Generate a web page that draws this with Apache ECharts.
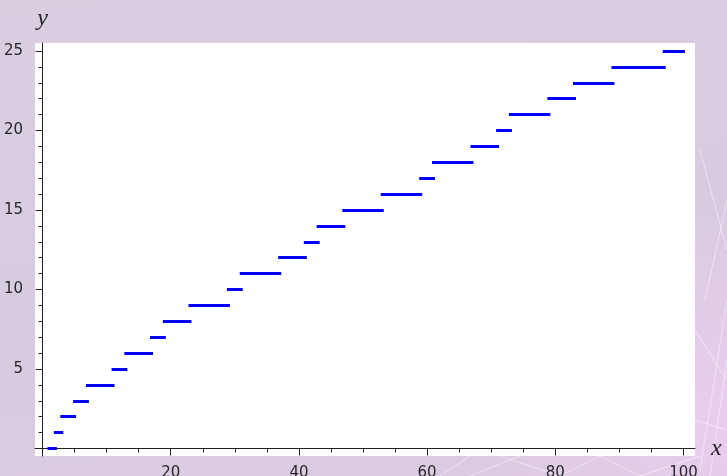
<!DOCTYPE html>
<html>
<head>
<meta charset="utf-8">
<script src="https://cdn.jsdelivr.net/npm/echarts@6/dist/echarts.min.js"></script>
<style>
html, body {
    margin: 0;
    padding: 0;
}
body {
    width: 727px;
    height: 476px;
    background:
        radial-gradient(ellipse 260px 220px at 735px 420px, rgba(236, 205, 240, 0.9), rgba(236, 205, 240, 0) 100%),
        linear-gradient(170deg, #d9cee0 0%, #d7cbe0 55%, #dccbe2 100%);
}
#chart {
    width: 727px;
    height: 476px;
}
</style>
</head>
<body>
<div id="chart"></div>
<script>
// prime counting function: value on [start, end)
const stepStart = [1, 2, 3, 5, 7, 11, 13, 17, 19, 23, 29, 31, 37, 41, 43, 47, 53, 59, 61, 67, 71, 73, 79, 83, 89, 97];
const stepEnd = [2, 3, 5, 7, 11, 13, 17, 19, 23, 29, 31, 37, 41, 43, 47, 53, 59, 61, 67, 71, 73, 79, 83, 89, 97, 100];
const stepValue = [0, 1, 2, 3, 4, 5, 6, 7, 8, 9, 10, 11, 12, 13, 14, 15, 16, 17, 18, 19, 20, 21, 22, 23, 24, 25];

const xTicks = [20, 40, 60, 80, 100];
const xMinorTicks = [5, 10, 15, 25, 30, 35, 45, 50, 55, 65, 70, 75, 85, 90, 95];
const yTicks = [5, 10, 15, 20, 25];
const yMinorTicks = [1, 2, 3, 4, 6, 7, 8, 9, 11, 12, 13, 14, 16, 17, 18, 19, 21, 22, 23, 24];

const chart = echarts.init(document.getElementById('chart'));

const segs = stepValue.map((v, i) => ({
    coords: [[stepStart[i], v], [stepEnd[i], v]]
}));

const X_MIN = -1.18, X_MAX = 101.8;
const Y_MIN = -0.47, Y_MAX = 25.5;

const labelFont = {
    fontFamily: 'DejaVu Sans',
    fontSize: 15,
    color: '#262626'
};
const nameFont = {
    fontFamily: 'Liberation Serif',
    fontStyle: 'italic',
    fontSize: 24,
    color: '#222'
};

// faint sparkle lines in the background corner
const sparkle = [
    [700, 150, 727, 250], [705, 300, 727, 200], [695, 330, 727, 380], [700, 470, 727, 300],
    [695, 420, 727, 430], [710, 476, 727, 360], [440, 476, 470, 456], [470, 476, 520, 456],
    [500, 456, 560, 476], [560, 476, 600, 456], [600, 456, 640, 476], [640, 476, 700, 456]
];

chart.setOption({
    animation: false,
    graphic: sparkle.map(s => ({
        type: 'line',
        z: -10,
        silent: true,
        shape: {x1: s[0], y1: s[1], x2: s[2], y2: s[3]},
        style: {stroke: 'rgba(255,255,255,0.45)', lineWidth: 1}
    })),
    grid: {
        left: 35,
        right: 32,
        top: 43,
        bottom: 20,
        show: true,
        backgroundColor: '#ffffff',
        borderWidth: 0,
        containLabel: false,
        outerBoundsMode: 'none'
    },
    xAxis: [
        {
            type: 'value',
            position: 'bottom',
            min: X_MIN,
            max: X_MAX,
            name: 'x',
            nameLocation: 'end',
            nameGap: 16,
            nameTextStyle: nameFont,
            axisLine: {show: true, onZero: true, onZeroAxisIndex: 0, lineStyle: {color: '#222', width: 1}},
            axisTick: {show: true, customValues: xTicks, length: 7, lineStyle: {color: '#222', width: 1}},
            axisLabel: {show: true, customValues: xTicks, margin: 10, ...labelFont},
            splitLine: {show: false}
        },
        {
            type: 'value',
            position: 'bottom',
            min: X_MIN,
            max: X_MAX,
            axisLine: {show: false, onZero: true, onZeroAxisIndex: 0},
            axisTick: {show: true, customValues: xMinorTicks, length: 4, lineStyle: {color: '#222', width: 1}},
            axisLabel: {show: false},
            splitLine: {show: false}
        }
    ],
    yAxis: [
        {
            type: 'value',
            position: 'left',
            min: Y_MIN,
            max: Y_MAX,
            name: 'y',
            nameLocation: 'end',
            nameGap: 12,
            nameTextStyle: nameFont,
            axisLine: {show: true, onZero: true, onZeroAxisIndex: 0, lineStyle: {color: '#222', width: 1}},
            axisTick: {show: true, customValues: yTicks, length: 7, lineStyle: {color: '#222', width: 1}},
            axisLabel: {show: true, customValues: yTicks, margin: 12, ...labelFont},
            splitLine: {show: false}
        },
        {
            type: 'value',
            position: 'left',
            min: Y_MIN,
            max: Y_MAX,
            axisLine: {show: false, onZero: true, onZeroAxisIndex: 0},
            axisTick: {show: true, customValues: yMinorTicks, length: 4, lineStyle: {color: '#222', width: 1}},
            axisLabel: {show: false},
            splitLine: {show: false}
        }
    ],
    series: [
        {
            type: 'lines',
            coordinateSystem: 'cartesian2d',
            xAxisIndex: 0,
            yAxisIndex: 0,
            polyline: false,
            silent: true,
            lineStyle: {
                color: '#0000ff',
                width: 3,
                opacity: 1,
                cap: 'square'
            },
            data: segs
        }
    ]
});
</script>
</body>
</html>
